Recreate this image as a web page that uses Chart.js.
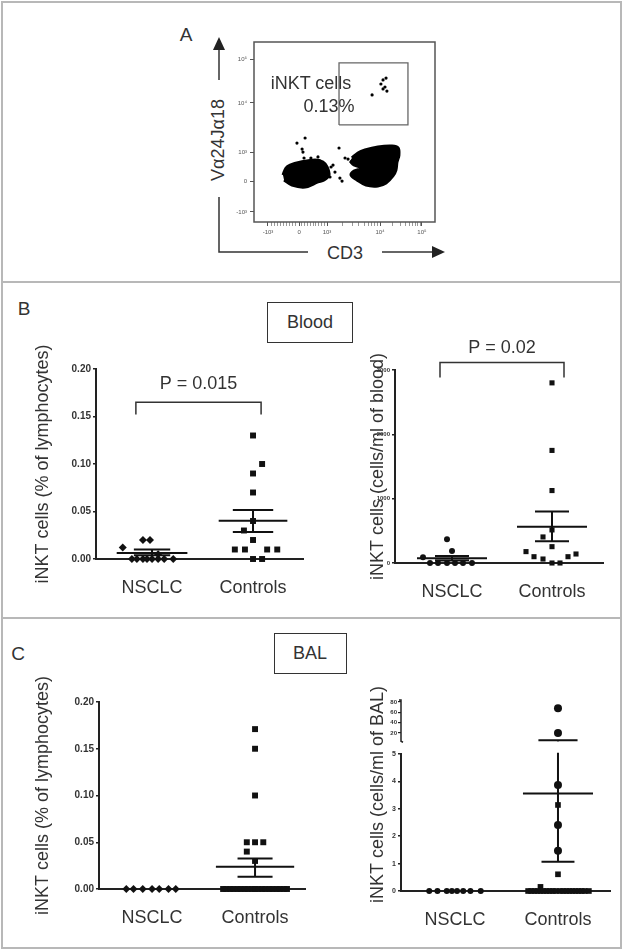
<!DOCTYPE html>
<html lang="en">
<head>
  <meta charset="UTF-8">
  <title>iNKT cells in NSCLC and controls</title>
  <script src="https://cdn.jsdelivr.net/npm/chart.js"></script>
  <style>
    body {
      margin: 0;
      background: #fff;
      font-family: 'Liberation Sans', Arial, sans-serif;
      color: #333;
    }
    #page {
      position: relative;
      width: 623px;
      height: 951px;
      overflow: hidden;
    }
    canvas { position: absolute; }
    .lbl {
      position: absolute;
      line-height: 1;
      white-space: nowrap;
      transform: translate(-50%, -50%);
    }
    .frame {
      position: absolute;
      box-sizing: border-box;
      border: 2px solid #b8b8b8;
    }
    .rule {
      position: absolute;
      left: 2px;
      width: 619px;
      height: 2px;
      background: #b8b8b8;
    }
    .tag {
      position: absolute;
      box-sizing: border-box;
      border: 1.5px solid #333;
    }
    svg { position: absolute; left: 0; top: 0; }
  </style>
</head>
<body>
<div id="page">
  <div class="frame" style="left:1px;top:1px;width:621px;height:948px"></div>
  <div class="rule" style="top:281px"></div>
  <div class="rule" style="top:617px"></div>

  <!-- panel A decorations -->
  <div class="lbl" style="left:186px;top:34px;font-size:19px">A</div>
  <svg width="623" height="300">
    <g stroke="#333" stroke-width="1.5" fill="none">
      <line x1="219" y1="80" x2="219" y2="48"/>
      <polyline points="219,197 219,252 308,252"/>
      <line x1="382" y1="252" x2="434" y2="252"/>
    </g>
    <polygon points="219,37 213,50 225,50" fill="#222"/>
    <polygon points="445,252 432,246 432,258" fill="#222"/>
  </svg>
  <div class="lbl" style="left:218px;top:140px;font-size:18px;transform:translate(-50%,-50%) rotate(-90deg)">Vα24Jα18</div>
  <div class="lbl" style="left:345px;top:253px;font-size:18px">CD3</div>
  <canvas id="flow"></canvas>
  <div class="lbl" style="left:311px;top:83px;font-size:18px">iNKT cells</div>
  <div class="lbl" style="left:329px;top:106px;font-size:18px">0.13%</div>

  <!-- panel B -->
  <div class="lbl" style="left:24px;top:308px;font-size:19px">B</div>
  <div class="tag" style="left:267px;top:302px;width:86px;height:41px"></div>
  <div class="lbl" style="left:310px;top:322px;font-size:18px">Blood</div>
  <canvas id="bloodPct"></canvas>
  <canvas id="bloodCnt"></canvas>

  <!-- panel C -->
  <div class="lbl" style="left:18px;top:653px;font-size:19px">C</div>
  <div class="tag" style="left:274px;top:633px;width:73px;height:41px"></div>
  <div class="lbl" style="left:310px;top:653px;font-size:18px">BAL</div>
  <canvas id="balPct"></canvas>
  <canvas id="balCnt"></canvas>
</div>

<script>
  const groups = ['NSCLC', 'Controls'];

  // Panel A: flow plot, positions in display channels (0-1024)
  const cd3Ticks = [79, 255, 413, 713, 950];
  const va24Ticks = [57, 233, 398, 677, 927];
  const logTickLabels = ['-10³', '0', '10³', '10⁴', '10⁵'];
  const cd3NegBlobX = [164, 181, 204, 266, 345, 390, 413, 424, 396, 362, 289, 215, 170];
  const cd3NegBlobY = [267, 307, 324, 341, 353, 341, 313, 267, 239, 228, 199, 210, 239];
  const cd3PosBlobX = [554, 588, 628, 701, 781, 815, 820, 809, 803, 786, 747, 701, 634, 583, 549, 566, 611, 566, 543];
  const cd3PosBlobY = [364, 393, 410, 427, 432, 421, 381, 341, 296, 262, 222, 205, 210, 239, 267, 290, 307, 324, 347];
  const eventsX = [289, 243, 272, 277, 283, 481, 515, 447, 458, 486, 413, 430, 373, 532, 436, 498, 322, 362, 730, 747, 718, 741, 730, 752, 668];
  const eventsY = [478, 449, 415, 398, 364, 421, 364, 324, 284, 250, 296, 256, 347, 358, 313, 233, 364, 370, 808, 819, 785, 768, 757, 745, 723];
  const gateX = [481, 871, 871, 481, 481];
  const gateY = [552, 552, 905, 905, 552];

  // Panel B: blood, % of lymphocytes
  const bloodPctTicks = [0, 0.05, 0.10, 0.15, 0.20];
  const bloodPctNsclc = [0.012, 0.020, 0.020, 0.005, 0, 0, 0, 0, 0, 0, 0, 0];
  const bloodPctNsclcJit = [-0.29, -0.09, -0.02, 0.06, -0.2, -0.15, -0.09, -0.05, 0, 0.06, 0.12, 0.21];
  const bloodPctCtrl = [0.130, 0.100, 0.090, 0.070, 0.040, 0.030, 0.020, 0.010, 0.010, 0.010, 0.010, 0, 0];
  const bloodPctCtrlJit = [0, 0.09, 0, 0, 0, -0.09, 0, -0.18, -0.08, 0.14, 0.24, 0, 0.09];
  const bloodPctMean = [0.0063, 0.0402];
  const bloodPctSemLo = [0.0040, 0.0283];
  const bloodPctSemHi = [0.0099, 0.0517];

  // Panel B: blood, cells/ml
  const bloodCntTicks = [0, 1000, 2000, 3000];
  const bloodCntNsclc = [369, 187, 89, 0, 0, 0, 0, 0, 0];
  const bloodCntNsclcJit = [-0.05, 0, -0.29, -0.22, -0.14, -0.05, 0.03, 0.11, 0.2];
  const bloodCntCtrl = [2800, 1750, 1126, 514, 405, 254, 177, 98, 62, 0, 0, 98, 140];
  const bloodCntCtrlJit = [0, 0, 0, 0, -0.09, 0, -0.26, -0.18, -0.09, 0, 0.08, 0.16, 0.24];
  const bloodCntMean = [73, 565];
  const bloodCntSemLo = [40, 338];
  const bloodCntSemHi = [109, 799];

  // Panel C: BAL, % of lymphocytes
  const balPctTicks = [0, 0.05, 0.10, 0.15, 0.20];
  const balPctNsclc = [0, 0, 0, 0, 0, 0, 0];
  const balPctNsclcJit = [-0.25, -0.18, -0.09, 0, 0.07, 0.16, 0.23];
  const balPctCtrl = [0.171, 0.150, 0.100, 0.050, 0.050, 0.050, 0.040, 0.030,
    0, 0, 0, 0, 0, 0, 0, 0, 0, 0, 0, 0, 0, 0, 0, 0, 0, 0, 0];
  const balPctCtrlJit = [0, 0, 0, -0.08, 0, 0.08, -0.08, 0,
    -0.31, -0.28, -0.24, -0.21, -0.17, -0.14, -0.1, -0.07, -0.03, 0, 0.03, 0.07, 0.1, 0.14, 0.17, 0.21, 0.24, 0.28, 0.31];
  const balPctMean = [0, 0.0238];
  const balPctSemLo = [0, 0.0131];
  const balPctSemHi = [0, 0.0327];

  // Panel C: BAL, cells/ml (broken axis)
  const balCntLowTicks = [0, 1, 2, 3, 4, 5];
  const balCntHighTicks = [20, 40, 60, 80];
  const balCntNsclc = [0, 0, 0, 0, 0, 0, 0, 0];
  const balCntNsclcJit = [-0.25, -0.17, -0.08, -0.03, 0.02, 0.08, 0.15, 0.25];
  const balCntCtrl = [3.87, 3.14, 2.41, 1.47, 0.61, 0.15,
    0, 0, 0, 0, 0, 0, 0, 0, 0, 0, 0, 0, 0, 0, 0, 0, 0, 0, 0, 0];
  const balCntCtrlJit = [0, 0, 0, 0, 0, -0.17,
    -0.29, -0.26, -0.23, -0.2, -0.17, -0.14, -0.11, -0.08, -0.05, -0.02, 0.02, 0.05, 0.08, 0.11, 0.14, 0.17, 0.2, 0.23, 0.26, 0.3];
  const balCntCtrlHigh = [68, 20];
  const balCntCtrlHighJit = [0, 0];
  const balCntMean = [0, 3.56];
  const balCntSemLo = [0, 1.07];
  const balCntSemHi = [0, 6.05];

  Chart.defaults.font.family = "'Liberation Sans', Arial, sans-serif";
  Chart.defaults.color = '#333';
  Chart.defaults.animation = false;
  Chart.defaults.plugins.legend.display = false;
  Chart.defaults.plugins.tooltip.enabled = false;

  const ink = '#222';
  const narrow = size => ({family: "'Liberation Sans Narrow', 'Arial Narrow', 'Liberation Sans', sans-serif", size: size, weight: 'bold'});

  function place(id, box) {
    const c = document.getElementById(id);
    c.width = box[2];
    c.height = box[3];
    c.style.left = box[0] + 'px';
    c.style.top = box[1] + 'px';
    return c;
  }

  function pts(values, jitter, cat) {
    return values.map((v, i) => ({x: cat + jitter[i], y: v}));
  }

  // mean line, two SEM caps and the joining stem, broken by null points
  function meanSem(cat, mean, lo, hi, half, cap) {
    return [
      {x: cat - half, y: mean}, {x: cat + half, y: mean}, {x: cat, y: null},
      {x: cat - cap, y: hi}, {x: cat + cap, y: hi}, {x: cat, y: null},
      {x: cat - cap, y: lo}, {x: cat + cap, y: lo}, {x: cat, y: null},
      {x: cat, y: lo}, {x: cat, y: hi}
    ];
  }

  function marks(data, style, radius, extra) {
    return Object.assign({
      data: data, pointStyle: style, pointRadius: radius,
      backgroundColor: '#111', borderColor: '#111', borderWidth: 0,
      showLine: false, clip: false
    }, extra || {});
  }

  function bars(data, extra) {
    return Object.assign({
      data: data, showLine: true, pointRadius: 0, borderColor: '#111',
      borderWidth: 2, spanGaps: false, clip: false
    }, extra || {});
  }

  // bracket with P value, in data units
  const bracket = {
    id: 'bracket',
    afterDatasetsDraw(chart, args, opts) {
      if (!opts.x) return;
      const {ctx, scales: {x, y}} = chart;
      const x0 = x.getPixelForValue(opts.x[0]);
      const x1 = x.getPixelForValue(opts.x[1]);
      const yb = y.getPixelForValue(opts.y[0]);
      const yt = y.getPixelForValue(opts.y[1]);
      ctx.save();
      ctx.strokeStyle = '#333';
      ctx.lineWidth = 1.5;
      ctx.beginPath();
      ctx.moveTo(x0, yb);
      ctx.lineTo(x0, yt);
      ctx.lineTo(x1, yt);
      ctx.lineTo(x1, yb);
      ctx.stroke();
      ctx.font = "18px 'Liberation Sans', Arial, sans-serif";
      ctx.fillStyle = '#333';
      ctx.textAlign = 'center';
      ctx.textBaseline = 'middle';
      ctx.fillText(opts.text, (x0 + x1) / 2, y.getPixelForValue(opts.textY));
      ctx.restore();
    }
  };

  function dotPlot(id, cfg) {
    const [cx, cy, cw, ch] = cfg.box;
    const [L, T, R, B] = cfg.area;
    const padLeft = cfg.titleX - 10.8 - cx;
    place(id, cfg.box);
    const scales = {
      x: {
        type: 'linear', min: cfg.xMin, max: cfg.xMax,
        afterBuildTicks: s => { s.ticks = [{value: 1}, {value: 2}]; },
        afterFit: s => { s.height = cy + ch - B; },
        ticks: {callback: (v, i) => groups[i], font: {size: 18}, color: '#333', padding: 18, autoSkip: false, maxRotation: 0},
        grid: {display: false, drawTicks: false},
        border: {display: true, color: ink, width: 2}
      },
      y: Object.assign({
        type: 'linear', min: cfg.yMin, max: cfg.yMax,
        afterBuildTicks: s => { s.ticks = cfg.yTicks.map(v => ({value: v})); },
        afterFit: s => { s.width = L - cx - padLeft - (cfg.labelWidth || 0); },
        ticks: {callback: cfg.yFmt, font: narrow(cfg.tickSize), color: '#333', padding: 2, autoSkip: false},
        grid: {drawOnChartArea: false, tickLength: 3, color: ink, lineWidth: 1.5},
        border: {color: ink, width: 2},
        title: {display: !cfg.labelWidth, text: cfg.title, font: {size: 18}, color: '#333', padding: 0}
      }, cfg.yExtra || {})
    };
    Object.assign(scales, cfg.moreScales || {});
    return new Chart(document.getElementById(id), {
      type: 'scatter',
      data: {datasets: cfg.datasets},
      options: {
        responsive: false,
        devicePixelRatio: 1,
        layout: {padding: {left: padLeft, top: T - cy, right: cx + cw - R, bottom: 0}},
        scales: scales,
        plugins: {bracket: cfg.bracket || {}}
      },
      plugins: [bracket].concat(cfg.plugins || [])
    });
  }

  // ---- Panel A: flow cytometry dot plot ----
  const frame = {
    id: 'frame',
    beforeDatasetsDraw(chart) {
      const {ctx, chartArea: a} = chart;
      ctx.save();
      ctx.strokeStyle = '#555';
      ctx.lineWidth = 1.5;
      ctx.strokeRect(a.left, a.top, a.width, a.height);
      ctx.restore();
    }
  };
  // minor ticks of the biexponential CD3 axis: linear steps near zero, log steps per decade
  const cd3Minor = [];
  for (let k = 1; k < 10; k++) {
    cd3Minor.push(cd3Ticks[0] + (cd3Ticks[1] - cd3Ticks[0]) * k / 10);
    cd3Minor.push(cd3Ticks[1] + (cd3Ticks[2] - cd3Ticks[1]) * k / 10);
  }
  for (let d = 2; d < 4; d++) {
    for (let k = 2; k < 10; k++) {
      cd3Minor.push(cd3Ticks[d] + (cd3Ticks[d + 1] - cd3Ticks[d]) * Math.log10(k));
    }
  }
  const xy = (xs, ys) => xs.map((v, i) => ({x: v, y: ys[i]}));
  place('flow', [225, 35, 215, 207]);
  new Chart(document.getElementById('flow'), {
    type: 'scatter',
    data: {
      datasets: [
        {data: xy(cd3NegBlobX, cd3NegBlobY), showLine: true, fill: 'shape', tension: 0.35,
          backgroundColor: '#000', borderColor: '#000', borderWidth: 3, pointRadius: 0},
        {data: xy(cd3PosBlobX, cd3PosBlobY), showLine: true, fill: 'shape', tension: 0.35,
          backgroundColor: '#000', borderColor: '#000', borderWidth: 3, pointRadius: 0},
        {data: xy(eventsX, eventsY), pointRadius: 1.6, backgroundColor: '#000', borderWidth: 0},
        {data: xy(gateX, gateY), showLine: true, pointRadius: 0, borderColor: '#666', borderWidth: 1.3}
      ]
    },
    options: {
      responsive: false,
      devicePixelRatio: 1,
      layout: {padding: {left: 0, top: 7, right: 5, bottom: 0}},
      scales: {
        x: {
          min: 0, max: 1024,
          afterBuildTicks: s => { s.ticks = cd3Ticks.concat(cd3Minor).map(v => ({value: v})); },
          afterFit: s => { s.height = 20; },
          ticks: {callback: (v, i) => logTickLabels[i] || '', font: {size: 6}, color: '#555', padding: 3, autoSkip: false, maxRotation: 0},
          grid: {drawOnChartArea: false, tickLength: 4, color: '#555',
            lineWidth: c => c.index < cd3Ticks.length ? 1 : 0.6},
          border: {display: false}
        },
        y: {
          min: 0, max: 1024,
          afterBuildTicks: s => { s.ticks = va24Ticks.map(v => ({value: v})); },
          afterFit: s => { s.width = 29; },
          ticks: {callback: (v, i) => logTickLabels[i], font: {size: 6}, color: '#555', padding: 3, autoSkip: false},
          grid: {drawOnChartArea: false, tickLength: 4, color: '#555'},
          border: {display: false}
        }
      }
    },
    plugins: [frame]
  });

  // ---- Panel B ----
  dotPlot('bloodPct', {
    box: [10, 345, 305, 260], area: [96, 369, 303, 559], titleX: 43,
    xMin: 0.445, xMax: 2.495, yMin: 0, yMax: 0.2, yTicks: bloodPctTicks,
    yFmt: v => v.toFixed(2), tickSize: 10,
    title: 'iNKT cells (% of lymphocytes)',
    datasets: [
      bars(meanSem(1, bloodPctMean[0], bloodPctSemLo[0], bloodPctSemHi[0], 0.35, 0.18)),
      bars(meanSem(2, bloodPctMean[1], bloodPctSemLo[1], bloodPctSemHi[1], 0.34, 0.2)),
      marks(pts(bloodPctNsclc, bloodPctNsclcJit, 1), 'rectRot', 4),
      marks(pts(bloodPctCtrl, bloodPctCtrlJit, 2), 'rect', 4.2)
    ],
    bracket: {x: [0.84, 2.08], y: [0.152, 0.165], textY: 0.184, text: 'P = 0.015'}
  });

  dotPlot('bloodCnt', {
    box: [320, 325, 300, 280], area: [395, 370, 603, 563], titleX: 378,
    xMin: 0.43, xMax: 2.51, yMin: 0, yMax: 3000, yTicks: bloodCntTicks,
    yFmt: v => String(v), tickSize: 6,
    title: 'iNKT cells (cells/ml of blood)',
    datasets: [
      bars(meanSem(1, bloodCntMean[0], bloodCntSemLo[0], bloodCntSemHi[0], 0.35, 0.17)),
      bars(meanSem(2, bloodCntMean[1], bloodCntSemLo[1], bloodCntSemHi[1], 0.35, 0.17)),
      marks(pts(bloodCntNsclc, bloodCntNsclcJit, 1), 'circle', 3),
      marks(pts(bloodCntCtrl, bloodCntCtrlJit, 2), 'rect', 3.6)
    ],
    bracket: {x: [0.88, 2.12], y: [2882, 3115], textY: 3347, text: 'P = 0.02'}
  });

  // ---- Panel C ----
  dotPlot('balPct', {
    box: [10, 655, 305, 290], area: [99, 702, 305, 889], titleX: 43,
    xMin: 0.485, xMax: 2.485, yMin: 0, yMax: 0.2, yTicks: balPctTicks,
    yFmt: v => v.toFixed(2), tickSize: 10,
    title: 'iNKT cells (% of lymphocytes)',
    datasets: [
      bars(meanSem(2, balPctMean[1], balPctSemLo[1], balPctSemHi[1], 0.38, 0.17)),
      marks(pts(balPctNsclc, balPctNsclcJit, 1), 'rectRot', 4),
      marks(pts(balPctCtrl, balPctCtrlJit, 2), 'rect', 4.2)
    ]
  });

  const brokenAxis = {
    id: 'brokenAxis',
    beforeDatasetsDraw(chart) {
      const {ctx} = chart;
      const s = chart.scales.yTop;
      const x = s.right;
      const y0 = s.getPixelForValue(4);
      const y1 = s.getPixelForValue(84);
      ctx.save();
      ctx.strokeStyle = ink;
      ctx.lineWidth = 1.5;
      ctx.beginPath();
      ctx.moveTo(x - 2, y1);
      ctx.lineTo(x, y1);
      ctx.lineTo(x, y0);
      ctx.lineTo(x + 2, y0 + 1);
      ctx.stroke();
      ctx.restore();
    }
  };

  const ctrlStyles = ['circle', 'rect', 'circle', 'circle', 'rect', 'rect'].concat(balCntCtrl.slice(6).map(() => 'rect'));
  dotPlot('balCnt', {
    box: [320, 655, 300, 290], area: [401, 698, 610, 891], titleX: 378, labelWidth: 22,
    xMin: 0.476, xMax: 2.505, yMin: 0, yMax: 5, yTicks: balCntLowTicks,
    yFmt: v => String(v), tickSize: 7,
    title: 'iNKT cells (cells/ml of BAL)',
    yExtra: {position: 'left', stack: 'bal', stackWeight: 137},
    moreScales: {
      yTop: {
        type: 'linear', min: -20.6, max: 87.7, position: 'left', stack: 'bal', stackWeight: 56,
        afterBuildTicks: s => { s.ticks = balCntHighTicks.map(v => ({value: v})); },
        afterFit: s => { s.width = 401 - 320 - (378 - 10.8 - 320) - 22; },
        ticks: {font: narrow(6), color: '#333', padding: 1, autoSkip: false},
        grid: {drawOnChartArea: false, tickLength: 3, color: ink, lineWidth: 1.2},
        border: {display: false}
      },
      yLabel: {
        type: 'linear', position: 'left', weight: 1,
        afterFit: s => { s.width = 22; },
        ticks: {display: false},
        grid: {display: false},
        border: {display: false},
        title: {display: true, text: 'iNKT cells (cells/ml of BAL)', font: {size: 18}, color: '#333', padding: 0}
      }
    },
    datasets: [
      bars([
        {x: 2 - 0.34, y: balCntMean[1]}, {x: 2 + 0.34, y: balCntMean[1]}, {x: 2, y: null},
        {x: 2 - 0.16, y: balCntSemLo[1]}, {x: 2 + 0.16, y: balCntSemLo[1]}, {x: 2, y: null},
        {x: 2, y: balCntSemLo[1]}, {x: 2, y: 5.05}
      ]),
      bars([
        {x: 2 - 0.19, y: balCntSemHi[1]}, {x: 2 + 0.19, y: balCntSemHi[1]}, {x: 2, y: null},
        {x: 2, y: balCntSemHi[1]}, {x: 2, y: 3.5}
      ], {yAxisID: 'yTop'}),
      marks(pts(balCntNsclc, balCntNsclcJit, 1), 'circle', 3),
      marks(pts(balCntCtrl, balCntCtrlJit, 2), ctrlStyles, 4),
      marks(pts(balCntCtrlHigh, balCntCtrlHighJit, 2), 'circle', 4, {yAxisID: 'yTop'})
    ],
    plugins: [brokenAxis]
  });
</script>
</body>
</html>
